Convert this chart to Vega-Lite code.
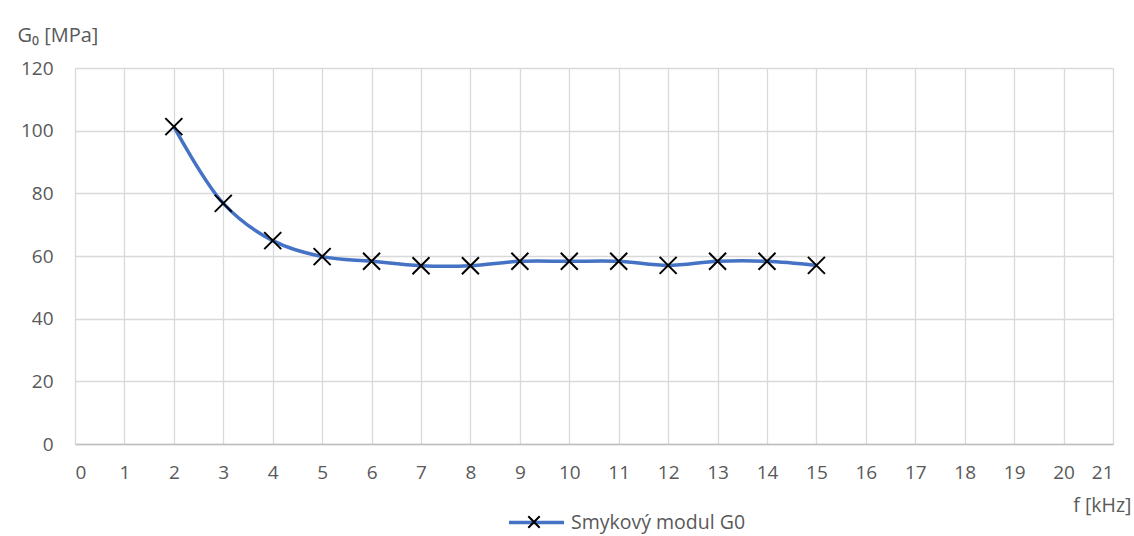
{
  "$schema": "https://vega.github.io/schema/vega-lite/v6.json",
  "width": 1038,
  "height": 376,
  "autosize": {"type": "none"},
  "padding": {"left": 75, "top": 68, "right": 21, "bottom": 92},
  "background": "white",
  "config": {
    "font": "Open Sans",
    "view": {"stroke": null}
  },
  "data": {
    "values": [
      {"f": 2, "G": 101.3},
      {"f": 3, "G": 76.8},
      {"f": 4, "G": 64.9},
      {"f": 5, "G": 59.8},
      {"f": 6, "G": 58.3},
      {"f": 7, "G": 56.9},
      {"f": 8, "G": 56.9},
      {"f": 9, "G": 58.3},
      {"f": 10, "G": 58.3},
      {"f": 11, "G": 58.3},
      {"f": 12, "G": 57.0},
      {"f": 13, "G": 58.3},
      {"f": 14, "G": 58.3},
      {"f": 15, "G": 57.0}
    ]
  },
  "resolve": {"legend": {"color": "independent", "shape": "independent"}},
  "encoding": {
    "x": {
      "field": "f", "type": "quantitative",
      "scale": {"domain": [0, 21], "nice": false, "zero": false},
      "axis": {"values": [0,1,2,3,4,5,6,7,8,9,10,11,12,13,14,15,16,17,18,19,20,21], "labelPadding": 19, "labelFontSize": 19, "labelFont": "Open Sans", "labelColor": "#595959", "ticks": false, "gridColor": "#d9d9d9", "gridWidth": 1.3, "title": "f [kHz]", "titleFont": "Open Sans", "titleColor": "#595959", "titleFontSize": 19.5, "titleFontWeight": "normal", "titleAlign": "right", "titleAnchor": null, "titleX": 1056, "titleY": 61, "titleBaseline": "middle", "domain": true, "domainColor": "#bfbfbf", "domainWidth": 1.3}
    },
    "y": {
      "field": "G", "type": "quantitative",
      "scale": {"domain": [0, 120], "nice": false},
      "axis": {"values": [0,20,40,60,80,100,120], "labelPadding": 22, "labelFontSize": 19, "labelFont": "Open Sans", "labelColor": "#595959", "ticks": false, "domain": false, "gridColor": "#d9d9d9", "gridWidth": 1.3, "title": "G₀ [MPa]", "titleFont": "Open Sans", "titleColor": "#595959", "titleAngle": 0, "titleFontSize": 20, "titleFontWeight": "normal", "titleAlign": "left", "titleAnchor": null, "titleX": -58, "titleY": -33, "titleBaseline": "middle"}
    }
  },
  "layer": [
    {
      "mark": {"type": "line", "interpolate": "catmull-rom", "strokeWidth": 3.5},
      "encoding": {
        "color": {
          "datum": "Smykový modul G0",
          "scale": {"range": ["#4472C4"]},
          "legend": {"orient": "none", "legendX": 432, "legendY": 425, "title": null, "symbolType": "stroke", "symbolSize": 3025, "symbolStrokeWidth": 3.5, "labelFontSize": 19.5, "labelLimit": 500, "labelColor": "#595959", "labelFont": "Open Sans", "labelOffset": 5}
        }
      }
    },
    {
      "mark": {"type": "point", "filled": false, "stroke": "black", "strokeWidth": 2, "size": 289, "opacity": 1},
      "encoding": {
        "shape": {
          "datum": "Smykový modul G0 ",
          "scale": {"range": ["M-1,-1L1,1M-1,1L1,-1"]},
          "legend": {"orient": "none", "legendX": 452, "legendY": 447, "title": null, "symbolSize": 130, "symbolStrokeColor": "black", "symbolFillColor": "transparent", "symbolStrokeWidth": 2, "labelExpr": "''"}
        }
      }
    }
  ]
}
